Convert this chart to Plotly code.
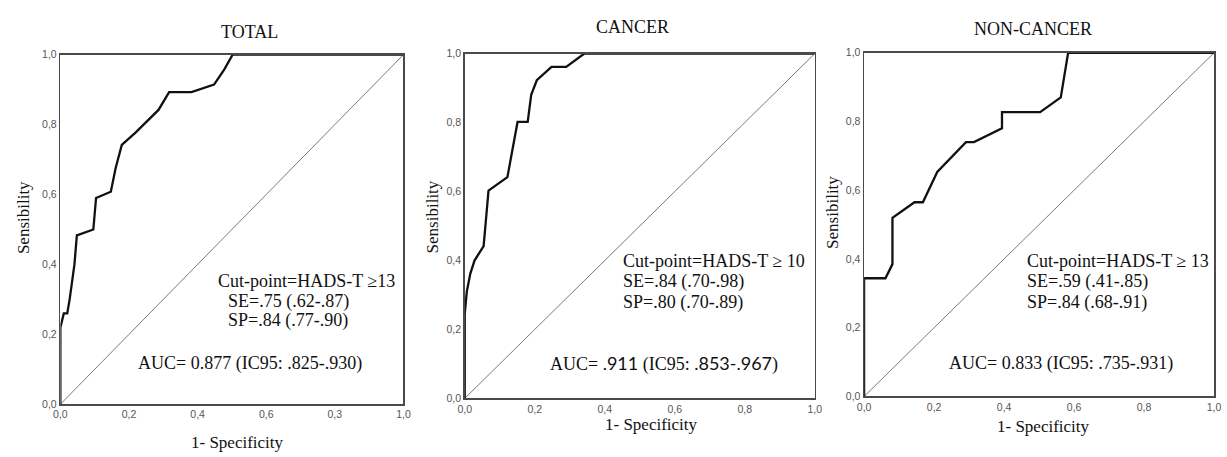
import plotly.graph_objects as go

W, H = 1227, 457

# ---- data ----
total_fpr = [0, 0, 0.010, 0.020, 0.027, 0.041, 0.048, 0.096, 0.104, 0.147, 0.161, 0.179, 0.219, 0.257, 0.286, 0.317, 0.382, 0.448, 0.478, 0.502, 1.0]
total_tpr = [0, 0.22, 0.26, 0.26, 0.30, 0.40, 0.483, 0.50, 0.590, 0.608, 0.675, 0.742, 0.777, 0.8125, 0.842, 0.893, 0.893, 0.9145, 0.958, 1.0, 1.0]

cancer_fpr = [0, 0, 0.006, 0.016, 0.028, 0.054, 0.068, 0.122, 0.151, 0.180, 0.190, 0.206, 0.248, 0.290, 0.341, 1.0]
cancer_tpr = [0, 0.245, 0.31, 0.362, 0.40, 0.442, 0.603, 0.642, 0.802, 0.802, 0.881, 0.923, 0.962, 0.962, 1.0, 1.0]

noncancer_fpr = [0, 0, 0.061, 0.081, 0.081, 0.144, 0.168, 0.209, 0.291, 0.314, 0.394, 0.394, 0.503, 0.562, 0.583, 1.0]
noncancer_tpr = [0, 0.344, 0.344, 0.385, 0.520, 0.565, 0.565, 0.653, 0.740, 0.740, 0.780, 0.827, 0.827, 0.870, 1.0, 1.0]

tick_vals = [0, 0.2, 0.4, 0.6, 0.8, 1.0]
tick_text_y = ["0,0", "0,2", "0,4", "0,6", "0,8", "1,0"]
tick_text_x_total = ["0,0", "0,2", "0,4", "0,6", "0,3", "1,0"]
tick_text_x = ["0,0", "0,2", "0,4", "0,6", "0,8", "1,0"]

titles = ["TOTAL", "CANCER", "NON-CANCER"]

# ---- layout geometry (pixels) ----
panels = [
    dict(x0=54, x1=401, y0=50, y1=409),
    dict(x0=463, x1=817, y0=49, y1=403),
    dict(x0=867, x1=1221, y0=48, y1=401),
]

fig = go.Figure()
series = [(total_fpr, total_tpr), (cancer_fpr, cancer_tpr), (noncancer_fpr, noncancer_tpr)]
xticktexts = [tick_text_x_total, tick_text_x, tick_text_x]

for i, (fx, ty) in enumerate(series):
    sfx = "" if i == 0 else str(i + 1)
    fig.add_trace(go.Scatter(x=[0, 1], y=[0, 1], mode="lines",
                             line=dict(color="#7a7a7a", width=1),
                             xaxis="x" + sfx, yaxis="y" + sfx, showlegend=False,
                             hoverinfo="skip"))
    fig.add_trace(go.Scatter(x=fx, y=ty, mode="lines",
                             line=dict(color="#111111", width=2.3),
                             xaxis="x" + sfx, yaxis="y" + sfx, showlegend=False,
                             cliponaxis=False))
    p = panels[i]
    axcommon = dict(range=[0, 1], showgrid=False, zeroline=False, showline=True,
                    linecolor="#4a4a4a", linewidth=1.6, mirror=True,
                    tickvals=tick_vals, ticks="",
                    tickfont=dict(family="Liberation Sans, Arial", size=10.5, color="#555555"),
                    fixedrange=True)
    fig.layout["xaxis" + sfx] = dict(axcommon, domain=[p["x0"] / W, p["x1"] / W],
                                     ticktext=xticktexts[i],
                                     anchor="y" + sfx)
    fig.layout["yaxis" + sfx] = dict(axcommon, domain=[1 - p["y1"] / H, 1 - p["y0"] / H],
                                     ticktext=tick_text_y,
                                     anchor="x" + sfx)

serif = "Liberation Serif, Times New Roman, serif"
ann = []

def paper_text(text, px, py, size=16, angle=0):
    ann.append(dict(text=text, x=px / W, y=1 - py / H, xref="paper", yref="paper",
                    xanchor="center", yanchor="middle", showarrow=False, textangle=angle,
                    font=dict(family=serif, size=size, color="#111111")))

# titles
paper_text("TOTAL", 245, 27, 18)
paper_text("CANCER", 633, 22, 18)
paper_text("NON-CANCER", 1038, 24, 18)
# x titles
paper_text("1- Specificity", 233, 448, 17)
paper_text("1- Specificity", 652, 430, 17)
paper_text("1- Specificity", 1048, 432, 17)
# y titles
paper_text("Sensibility", 16, 217, 17, -90)
paper_text("Sensibility", 430, 217, 17, -90)
paper_text("Sensibility", 835, 212, 17, -90)

def data_text(text, i, x, y):
    sfx = "" if i == 0 else str(i + 1)
    ann.append(dict(text=text, x=x, y=y, xref="x" + sfx, yref="y" + sfx,
                    xanchor="left", yanchor="middle", showarrow=False,
                    font=dict(family=serif, size=18, color="#111111")))

sans = "font-family:Lato, Carlito, sans-serif"
data_text("Cut-point=HADS-T ≥13", 0, 0.455, 0.354)
data_text("SE=.75 (.62-.87)", 0, 0.484, 0.295)
data_text("SP=.84 (.77-.90)", 0, 0.484, 0.240)
data_text("AUC= 0.877 (IC95: .825-.930)", 0, 0.219, 0.117)

data_text("Cut-point=HADS-T ≥ 10", 1, 0.448, 0.398)
data_text("SE=.84 (.70-.98)", 1, 0.448, 0.339)
data_text("SP=.80 (.70-.89)", 1, 0.448, 0.277)
data_text("AUC= <span style='" + sans + "'>.911</span> (IC95: <span style='" + sans + "'>.853-.967</span>)", 1, 0.237, 0.102)

data_text("Cut-point=HADS-T ≥ 13", 2, 0.460, 0.394)
data_text("SE=.59 (.41-.85)", 2, 0.460, 0.334)
data_text("SP=.84 (.68-.91)", 2, 0.460, 0.272)
data_text("AUC= 0.833 (IC95: .735-.931)", 2, 0.236, 0.096)

fig.update_layout(width=W, height=H, margin=dict(l=0, r=0, t=0, b=0),
                  paper_bgcolor="white", plot_bgcolor="white",
                  annotations=ann, showlegend=False)

fig.write_html("out.html",
               config={"displayModeBar": False, "staticPlot": True},
               post_script=("document.documentElement.style.margin='0';"
                            "document.documentElement.style.overflow='hidden';"
                            "document.body.style.margin='0';"
                            "document.body.style.padding='0';"
                            "document.body.style.overflow='hidden';"))
